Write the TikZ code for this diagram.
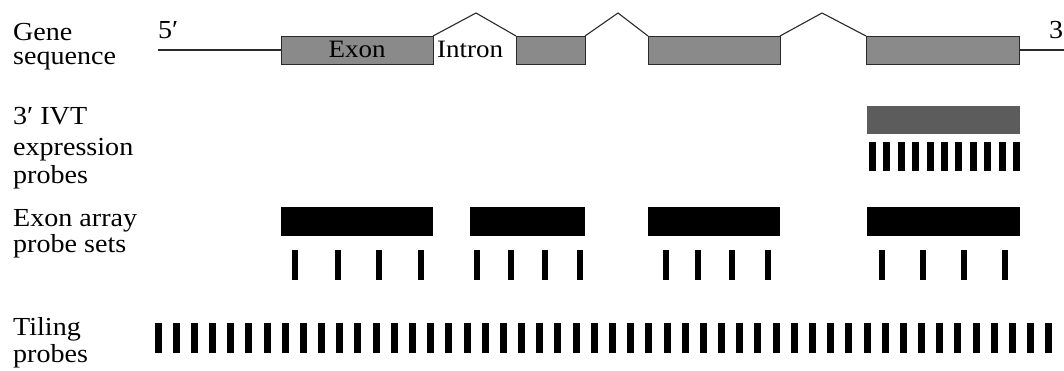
\documentclass[tikz,border=0pt]{standalone}
\usepackage{fontspec}
\setmainfont{Liberation Serif}[FakeStretch=1.08]
\definecolor{exongray}{HTML}{8A8A8A}
\definecolor{exonedge}{HTML}{2A2A2A}
\definecolor{ivtgray}{HTML}{5C5C5C}
\begin{document}
\begin{tikzpicture}[x=1pt,y=-1pt,
  lbl/.style={anchor=base west, inner sep=0pt, font=\fontsize{26}{30}\selectfont},
  boxtext/.style={inner sep=0pt, font=\fontsize{25}{30}\selectfont},
  exonbox/.style={draw=exonedge, fill=exongray, line width=0.9pt, inner sep=0pt, outer sep=0pt, anchor=north west, minimum height=28pt},
  setbox/.style={fill=black, inner sep=0pt, outer sep=0pt, anchor=north west, minimum height=29pt},
  ivtbox/.style={fill=ivtgray, inner sep=0pt, outer sep=0pt, anchor=north west, minimum height=28pt},
  geneline/.style={draw=exonedge, line width=1.1pt, line join=miter},
]
\useasboundingbox (0,0) rectangle (1064,371);
\clip (0,0) rectangle (1064,371);

% row labels
\node[lbl] (gene1) at (13,41) {Gene};
\node[lbl] (gene2) at (13,65) {sequence};
\node[lbl] (ivt1) at (13,125) {3′ IVT};
\node[lbl] (ivt2) at (13,156) {expression};
\node[lbl] (ivt3) at (13,184) {probes};
\node[lbl] (exa1) at (13,226) {Exon array};
\node[lbl] (exa2) at (13,252) {probe sets};
\node[lbl] (til1) at (13,335) {Tiling};
\node[lbl] (til2) at (13,362) {probes};

% gene model: exons, introns, flanking sequence
\node[exonbox, minimum width=152pt] (e1) at (281,36) {};
\node[exonbox, minimum width=69pt]  (e2) at (516,36) {};
\node[exonbox, minimum width=132pt] (e3) at (648,36) {};
\node[exonbox, minimum width=153pt] (e4) at (866,36) {};
\node[boxtext, anchor=base] (exonlbl) at (357,58) {Exon};
\node[boxtext, anchor=base west] (intronlbl) at (437,58) {Intron};
\node[lbl] (five) at (158,39) {5′};
\node[lbl] (three) at (1049,39) {3′};

\coordinate (g5) at (158,50);
\coordinate (g3) at (1064,50);
\coordinate (p1) at (476,13);
\coordinate (p2) at (618,13);
\coordinate (p3) at (822,13);
\draw[geneline] (g5) -- (e1.west);
\draw[geneline] (e4.east) -- (g3);
\draw[geneline] (e1.north east) -- (p1) -- (e2.north west);
\draw[geneline] (e2.north east) -- (p2) -- (e3.north west);
\draw[geneline] (e3.north east) -- (p3) -- (e4.north west);

% 3' IVT expression probes
\node[ivtbox, minimum width=153pt] (ivt) at (867,106) {};
\foreach \i in {0,...,10}
  \fill ({872.5+14.4*\i-3.5},142) rectangle ++(7,29);

% exon array probe sets
\node[setbox, minimum width=152pt] (s1) at (281,207) {};
\node[setbox, minimum width=115pt] (s2) at (470,207) {};
\node[setbox, minimum width=132pt] (s3) at (648,207) {};
\node[setbox, minimum width=153pt] (s4) at (867,207) {};
\foreach \x in {295,338,379,421, 477,511,545,580, 666,698,732,768, 882,923,964,1005}
  \fill ({\x-3.25},250) rectangle ++(6.5,30);

% tiling probes
\foreach \i in {0,...,50}
  \fill ({158+18.18*\i-3.5},323) rectangle ++(7,30);
\end{tikzpicture}
\end{document}
